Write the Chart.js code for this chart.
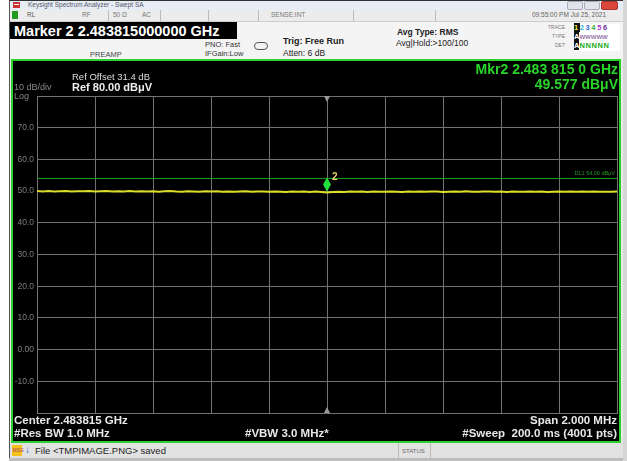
<!DOCTYPE html>
<html><head><meta charset="utf-8">
<script src="https://cdn.jsdelivr.net/npm/chart.js@4.4.1/dist/chart.umd.min.js"></script>
<style>
body{margin:0;width:627px;height:461px;position:relative;overflow:hidden;background:#fff;font-family:"Liberation Sans",Arial,sans-serif;}
.a{position:absolute;white-space:nowrap;line-height:1;}
#chart{position:absolute;left:0;top:0;z-index:2;}
.txt{z-index:3}
</style></head><body>
<!-- window frame -->
<div class="a" style="left:9px;top:0;width:614px;height:460px;background:#e9e9e9;border-left:1px solid #555;border-top:1px solid #333;"></div>
<!-- title bar -->
<div class="a" style="left:10px;top:1px;width:613px;height:9px;background:#e6edf5;"></div>
<div class="a" style="left:13px;top:2px;width:7px;height:6px;background:#c33;"></div>
<div class="a" style="left:14px;top:4px;width:5px;height:1px;background:#fff;"></div>
<div class="a" style="left:28px;top:2px;font-size:6.5px;color:#556;">Keysight Spectrum Analyzer - Swept SA</div>
<div class="a" style="left:567px;top:1px;width:14px;height:7px;background:#dfe4ea;border:1px solid #aab;border-radius:2px;"></div>
<div class="a" style="left:584px;top:1px;width:14px;height:7px;background:#dfe4ea;border:1px solid #aab;border-radius:2px;"></div>
<div class="a" style="left:601px;top:1px;width:15px;height:7px;background:#d9483b;border:1px solid #a33;border-radius:2px;"></div>
<!-- status row -->
<div class="a" style="left:10px;top:10px;width:613px;height:11px;background:#ececec;border-bottom:1px solid #ccc;"></div>
<div class="a" style="left:12px;top:11px;width:6px;height:8px;background:#1f9a1f;"></div>
<div class="a" style="left:27px;top:12px;font-size:6.5px;color:#555;">RL</div>
<div class="a" style="left:82px;top:12px;font-size:6.5px;color:#777;">RF</div>
<div class="a" style="left:108px;top:10px;width:1px;height:11px;background:#bbb;"></div>
<div class="a" style="left:113px;top:12px;font-size:6.5px;color:#777;">50 Ω</div>
<div class="a" style="left:142px;top:12px;font-size:6.5px;color:#777;">AC</div>
<div class="a" style="left:160px;top:10px;width:1px;height:11px;background:#bbb;"></div>
<div class="a" style="left:208px;top:10px;width:1px;height:11px;background:#bbb;"></div>
<div class="a" style="left:258px;top:10px;width:1px;height:11px;background:#bbb;"></div>
<div class="a" style="left:271px;top:12px;font-size:6.5px;color:#777;">SENSE:INT</div>
<div class="a" style="left:353px;top:10px;width:1px;height:11px;background:#bbb;"></div>
<div class="a" style="left:435px;top:10px;width:1px;height:11px;background:#bbb;"></div>
<div class="a" style="left:532px;top:12px;font-size:6.5px;color:#666;">09:55:00 PM Jul 25, 2021</div>
<!-- header -->
<div class="a" style="left:10px;top:22px;width:613px;height:37px;background:#f4f4f4;"></div>
<div class="a" style="left:10px;top:22px;width:227px;height:17px;background:#000;"></div>
<div class="a" style="left:14px;top:24px;font-size:14.5px;font-weight:bold;color:#fff;">Marker 2 2.483815000000 GHz</div>
<div class="a" style="left:90px;top:51px;font-size:7.5px;color:#444;">PREAMP</div>
<div class="a" style="left:205px;top:41px;font-size:7.5px;color:#333;">PNO: Fast</div>
<div class="a" style="left:205px;top:50px;font-size:7.5px;color:#333;">IFGain:Low</div>
<div class="a" style="left:254px;top:42px;width:12px;height:6px;border:1px solid #555;border-radius:4px;"></div>
<div class="a" style="left:283px;top:37px;font-size:9px;font-weight:bold;color:#222;">Trig: Free Run</div>
<div class="a" style="left:283px;top:49px;font-size:8.5px;color:#222;">Atten: 6 dB</div>
<div class="a" style="left:397px;top:28px;font-size:8.5px;font-weight:bold;color:#222;">Avg Type: RMS</div>
<div class="a" style="left:396px;top:39px;font-size:8.5px;color:#222;">Avg|Hold:&gt;100/100</div>
<div class="a" style="left:545px;top:25px;width:20px;text-align:right;font-size:5px;color:#777;">TRACE</div>
<div class="a" style="left:545px;top:34px;width:20px;text-align:right;font-size:5px;color:#777;">TYPE</div>
<div class="a" style="left:545px;top:43px;width:20px;text-align:right;font-size:5px;color:#777;">DET</div>
<div class="a" style="left:574px;top:24px;width:46px;height:27px;background:#fff;"></div>
<div class="a" style="left:574px;top:24px;font-size:7.5px;font-weight:bold;letter-spacing:1.6px;"><span style="background:#111;color:#ee3;">1</span><span style="color:#2bc;">2</span><span style="color:#36c;">3</span><span style="color:#3a3;">4</span><span style="color:#a3c;">5</span><span style="color:#639;">6</span></div>
<div class="a" style="left:574px;top:33px;font-size:7.5px;font-weight:bold;"><span style="background:#111;color:#fff;">A</span><span style="color:#97a;font-size:6px;">WWWWW</span></div>
<div class="a" style="left:574px;top:42px;font-size:7.5px;font-weight:bold;"><span style="background:#111;color:#fff;">A</span><span style="color:#2a2;letter-spacing:0.6px;">NNNNN</span></div>
<!-- display frame -->
<div class="a" style="left:11px;top:59px;width:606px;height:380px;background:#000;border:2px solid #2fcf2f;"></div>
<!-- display texts -->
<div class="a txt" style="left:72px;top:72px;font-size:9.5px;color:#ddd;">Ref Offset 31.4 dB</div>
<div class="a txt" style="left:72px;top:82px;font-size:11px;font-weight:bold;color:#eee;">Ref 80.00 dBμV</div>
<div class="a txt" style="left:14px;top:83px;font-size:9px;color:#888;">10 dB/div</div>
<div class="a txt" style="left:14px;top:92px;font-size:9px;color:#888;">Log</div>
<div class="a txt" style="right:9px;top:62px;font-size:14px;font-weight:bold;color:#2ad52a;">Mkr2 2.483 815 0 GHz</div>
<div class="a txt" style="right:9px;top:77px;font-size:14px;font-weight:bold;color:#2ad52a;">49.577 dBμV</div>
<div class="a txt" style="left:14px;top:415px;font-size:11.5px;font-weight:bold;color:#e8e8e8;">Center 2.483815 GHz</div>
<div class="a txt" style="left:14px;top:428px;font-size:11.5px;font-weight:bold;color:#e8e8e8;">#Res BW 1.0 MHz</div>
<div class="a txt" style="left:245px;top:428px;font-size:11.5px;font-weight:bold;color:#e8e8e8;">#VBW 3.0 MHz*</div>
<div class="a txt" style="right:10px;top:415px;font-size:11.5px;font-weight:bold;color:#e8e8e8;">Span 2.000 MHz</div>
<div class="a txt" style="right:10px;top:428px;font-size:11.5px;font-weight:bold;color:#e8e8e8;">#Sweep&nbsp;&nbsp;200.0 ms (4001 pts)</div>
<!-- message bar -->
<div class="a" style="left:10px;top:443px;width:613px;height:15px;background:#e2e2e2;"></div>
<div class="a" style="left:12px;top:445px;width:10px;height:11px;background:#f2c21a;"></div>
<div class="a" style="left:12.5px;top:448px;font-size:5px;color:#a36;">MSG</div>
<div class="a" style="left:25px;top:445px;font-size:10px;font-weight:bold;color:#2b6fd6;">↓</div>
<div class="a" style="left:35px;top:446px;font-size:9.5px;color:#222;">File &lt;TMPIMAGE.PNG&gt; saved</div>
<div class="a" style="left:398px;top:443px;width:1px;height:15px;background:#bbb;"></div>
<div class="a" style="left:430px;top:443px;width:1px;height:15px;background:#bbb;"></div>
<div class="a" style="left:402px;top:448px;font-size:6px;color:#666;">STATUS</div>
<div class="a" style="left:9px;top:458px;width:618px;height:3px;background:#bdbdbd;"></div>
<div class="a" style="left:623px;top:0;width:4px;height:461px;background:#d6d6d6;"></div>

<canvas id="chart" width="627" height="461"></canvas>
<script>
// ---- data ----
const spanStartKHz = -1000;   // offset from center 2.483815 GHz
const spanStopKHz = 1000;
const traceStepKHz = 20;
const traceLevel = [
 50.02,49.91,50.06,49.88,49.97,50.04,49.85,49.99,49.93,50.05,
 49.87,49.96,50.01,49.84,49.94,49.90,50.03,49.86,49.95,49.89,
 49.98,49.83,49.92,50.00,49.87,49.81,49.95,49.88,49.79,49.93,
 49.86,49.97,49.82,49.90,49.77,49.89,49.94,49.80,49.86,49.91,
 49.78,49.88,49.83,49.74,49.90,49.81,49.86,49.72,49.84,49.69,
 49.577,49.75,49.83,49.71,49.87,49.79,49.85,49.73,49.90,49.80,
 49.76,49.88,49.82,49.74,49.86,49.79,49.91,49.77,49.84,49.89,
 49.75,49.83,49.87,49.78,49.92,49.81,49.76,49.88,49.84,49.79,
 49.90,49.73,49.85,49.82,49.77,49.89,49.80,49.86,49.74,49.83,
 49.88,49.79,49.84,49.76,49.87,49.81,49.85,49.78,49.83,49.80,49.84
];
const markerFreqKHz = [0];
const markerLevel = [49.577];
const markerLabel = ['2'];
const displayLineLevel = [54.00];
const displayLineLabel = ['DL1 54.00 dBμV'];
const yTickValues = [70,60,50,40,30,20,10,0,-10];
const yTickLabels = ['70.0','60.0','50.0','40.0','30.0','20.0','10.0','0.00','-10.0'];
const refLevel = 80, bottomLevel = -20;

const traceData = traceLevel.map((v,i)=>({x: spanStartKHz + i*traceStepKHz, y: v}));
const dlData = [{x:spanStartKHz,y:displayLineLevel[0]},{x:spanStopKHz,y:displayLineLevel[0]}];

const gridColor = '#727272';
const overlay = {
  id:'overlay',
  afterDatasetsDraw(chart){
    const ctx = chart.ctx, xs = chart.scales.x, ys = chart.scales.y;
    ctx.save();
    // center triangles
    const cx = xs.getPixelForValue(0);
    const top = chart.chartArea.top, bot = chart.chartArea.bottom;
    ctx.fillStyle = '#9a9a9a';
    ctx.beginPath(); ctx.moveTo(cx-3,top); ctx.lineTo(cx+3,top); ctx.lineTo(cx,top+6); ctx.closePath(); ctx.fill();
    ctx.beginPath(); ctx.moveTo(cx-3,bot); ctx.lineTo(cx+3,bot); ctx.lineTo(cx,bot-6); ctx.closePath(); ctx.fill();
    // display line label
    ctx.font = '5.5px "Liberation Sans", Arial';
    ctx.fillStyle = '#2a9a2a';
    ctx.textAlign = 'right'; ctx.textBaseline = 'bottom';
    ctx.fillText(displayLineLabel[0], chart.chartArea.right-2, ys.getPixelForValue(displayLineLevel[0])-2);
    // markers
    markerFreqKHz.forEach((f,i)=>{
      const mx = xs.getPixelForValue(f), my = ys.getPixelForValue(markerLevel[i]);
      ctx.fillStyle = '#22e03a';
      ctx.beginPath();
      ctx.moveTo(mx, my-15); ctx.lineTo(mx+4, my-8); ctx.lineTo(mx, my-1); ctx.lineTo(mx-4, my-8); ctx.closePath(); ctx.fill();
      ctx.font = 'bold 10px "Liberation Sans", Arial';
      ctx.fillStyle = '#e6cf6a';
      ctx.textAlign = 'left'; ctx.textBaseline = 'middle';
      ctx.fillText(markerLabel[i], mx+5, my-15);
    });
    ctx.restore();
  }
};

new Chart(document.getElementById('chart'), {
  type:'line',
  data:{datasets:[
    {data:traceData, borderColor:'#dede2a', borderWidth:2, pointRadius:0, tension:0, order:1},
    {data:dlData, borderColor:'#1f9f1f', borderWidth:1, pointRadius:0, order:2}
  ]},
  options:{
    responsive:false, animation:false, devicePixelRatio:1,
    layout:{padding:{left:0, top:96, right:10, bottom:48}},
    plugins:{legend:{display:false}, tooltip:{enabled:false}},
    scales:{
      x:{type:'linear', min:spanStartKHz, max:spanStopKHz,
         ticks:{display:false, stepSize:200},
         grid:{color:gridColor, drawTicks:false, lineWidth:1},
         border:{display:true,color:gridColor},
         afterFit(a){a.height=0;}},
      y:{type:'linear', min:bottomLevel, max:refLevel,
         ticks:{stepSize:10, padding:3, color:'#7d7d7d', font:{size:8.5, family:'"Liberation Sans", Arial'},
           callback(v){const k=yTickValues.indexOf(v); return k>=0? yTickLabels[k] : '';}},
         grid:{color:gridColor, drawTicks:false, lineWidth:1},
         border:{display:true,color:gridColor},
         afterFit(a){a.width=37;}}
    }
  },
  plugins:[overlay]
});
</script>
</body></html>
